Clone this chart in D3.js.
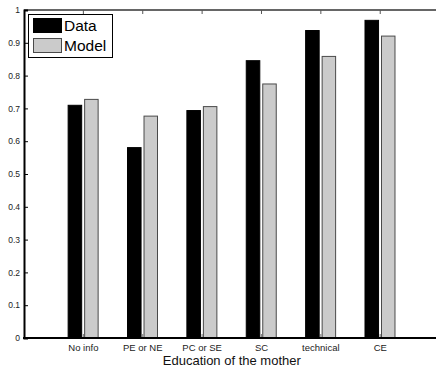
<!DOCTYPE html>
<html>
<head>
<meta charset="utf-8">
<script src="https://cdn.jsdelivr.net/npm/d3@7"></script>
<style>
  html, body { margin: 0; padding: 0; background: #fff; }
  svg { display: block; font-family: "Liberation Sans", Arial, Helvetica, sans-serif; }
</style>
</head>
<body>
<svg id="chart" width="436" height="370"></svg>
<script>
// Share of outcome by mother's education: observed data vs. model prediction
const categories = ["No info", "PE or NE", "PC or SE", "SC", "technical", "CE"];
const dataValues  = [0.711, 0.582, 0.695, 0.847, 0.939, 0.970];
const modelValues = [0.729, 0.678, 0.707, 0.776, 0.860, 0.922];
const yTicks = [0, 0.1, 0.2, 0.3, 0.4, 0.5, 0.6, 0.7, 0.8, 0.9, 1];
const seriesNames = ["Data", "Model"];

const svg = d3.select("#chart");
const plotLeft = 24, plotTop = 10, plotBottom = 338, plotRight = 439.6;

const x = d3.scaleLinear().domain([0, categories.length + 1]).range([plotLeft, plotRight]);
const y = d3.scaleLinear().domain([0, 1]).range([plotBottom, plotTop]);

// group offsets (in category units) for the two bars
const barSpec = [
  { values: dataValues,  x0: -0.265, x1: -0.02, fill: "#000000", stroke: "#000000" },
  { values: modelValues, x0: 0.013,  x1: 0.257, fill: "#cbcbcb", stroke: "#4a4a4a" }
];

barSpec.forEach(s => {
  svg.append("g").selectAll("rect")
    .data(s.values)
    .join("rect")
    .attr("x", (d, i) => x(i + 1 + s.x0) + 0.5)
    .attr("width", (d, i) => x(i + 1 + s.x1) - x(i + 1 + s.x0) - 1)
    .attr("y", d => y(d) + 0.5)
    .attr("height", d => y(0) - y(d) - 0.5)
    .attr("fill", s.fill)
    .attr("stroke", s.stroke)
    .attr("stroke-width", 1);
});

// top border with inward category ticks
svg.append("line")
  .attr("x1", plotLeft).attr("x2", plotRight)
  .attr("y1", plotTop).attr("y2", plotTop)
  .attr("stroke", "#333").attr("stroke-width", 1.5);

const catIdx = d3.range(1, categories.length + 1);
svg.append("g").selectAll("line")
  .data(catIdx)
  .join("line")
  .attr("x1", d => x(d)).attr("x2", d => x(d))
  .attr("y1", plotTop).attr("y2", plotTop + 4)
  .attr("stroke", "#555").attr("stroke-width", 1);

// small bottom stubs between the paired bars
svg.append("g").selectAll("line")
  .data(catIdx)
  .join("line")
  .attr("x1", d => x(d)).attr("x2", d => x(d))
  .attr("y1", plotBottom - 4).attr("y2", plotBottom)
  .attr("stroke", "#888").attr("stroke-width", 1.2);

// y axis: ticks point inward
const yAxis = d3.axisLeft(y).tickValues(yTicks).tickSize(-4).tickPadding(4)
  .tickFormat(d => d3.format("~g")(d));
const gy = svg.append("g").attr("transform", `translate(${plotLeft},0)`).call(yAxis);
gy.select(".domain").attr("stroke", "#000").attr("stroke-width", 2);
gy.selectAll(".tick line").attr("stroke", "#000").attr("stroke-width", 1);
gy.selectAll(".tick text").attr("font-size", 8.5).attr("fill", "#222")
  .attr("font-family", "Liberation Sans, Arial, sans-serif");

// x axis baseline and category labels
svg.append("line")
  .attr("x1", plotLeft - 1).attr("x2", plotRight)
  .attr("y1", plotBottom).attr("y2", plotBottom)
  .attr("stroke", "#000").attr("stroke-width", 2);

svg.append("g").selectAll("text")
  .data(categories)
  .join("text")
  .attr("x", (d, i) => x(i + 1))
  .attr("y", 350.5)
  .attr("text-anchor", "middle")
  .attr("font-size", 9.5)
  .attr("fill", "#222")
  .text(d => d);

svg.append("text")
  .attr("x", (plotLeft + plotRight) / 2)
  .attr("y", 364.5)
  .attr("text-anchor", "middle")
  .attr("font-size", 13)
  .attr("fill", "#111")
  .text("Education of the mother");

// legend
const lg = svg.append("g");
lg.append("rect")
  .attr("x", 28.5).attr("y", 14.5).attr("width", 84).attr("height", 43)
  .attr("fill", "#fff").attr("stroke", "#000").attr("stroke-width", 1);
seriesNames.forEach((name, i) => {
  const s = barSpec[i];
  lg.append("rect")
    .attr("x", 33.5).attr("y", 18.5 + i * 20).attr("width", 28).attr("height", 14)
    .attr("fill", s.fill).attr("stroke", s.stroke).attr("stroke-width", 1);
  lg.append("text")
    .attr("x", 64).attr("y", 31 + i * 20)
    .attr("font-size", 15.5)
    .attr("fill", "#000")
    .text(name);
});
</script>
</body>
</html>
